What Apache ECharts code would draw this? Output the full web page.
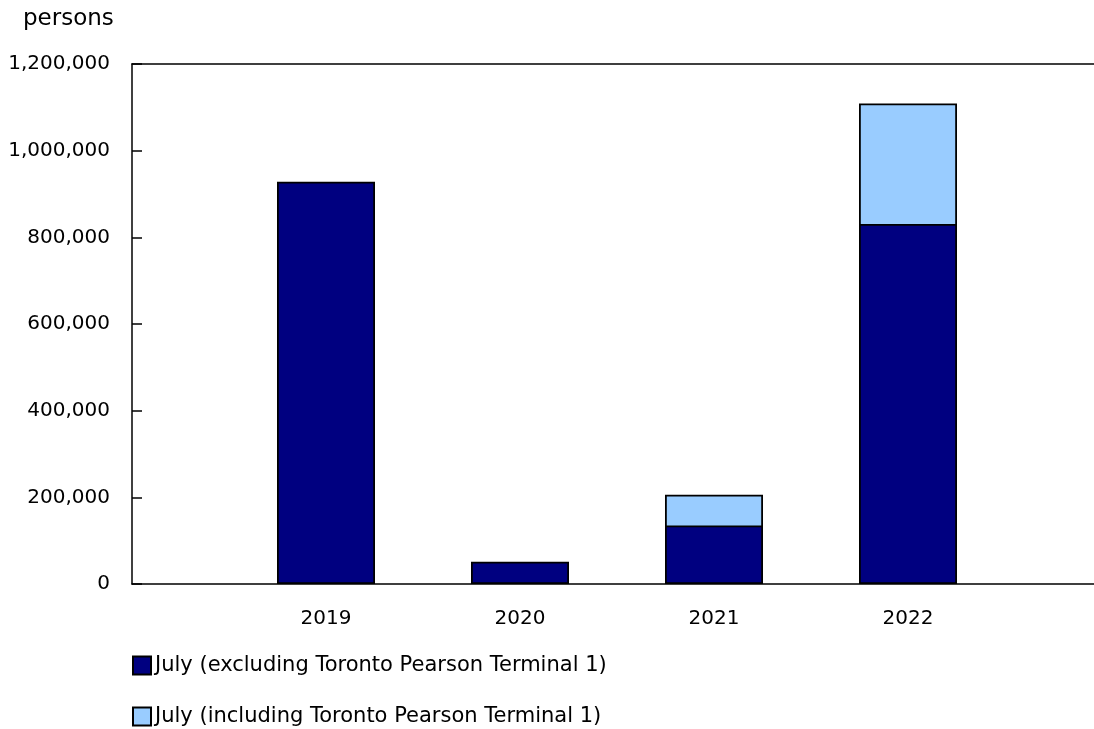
<!DOCTYPE html>
<html>
<head>
<meta charset="utf-8">
<script src="https://cdn.jsdelivr.net/npm/echarts@6/dist/echarts.min.js"></script>
<style>html,body{margin:0;padding:0;background:#fff}#c{width:1094px;height:729px}</style>
</head>
<body>
<div id="c"></div>
<script>
const categories = ['', '2019', '2020', '2021', '2022', ''];
const excludingT1 = [null, 928400, 51400, 135100, 831000, null];
const includingT1 = [null, null, null, 206000, 1108700, null];
const seriesNames = ['July (excluding Toronto Pearson Terminal 1)', 'July (including Toronto Pearson Terminal 1)'];
const yTicks = [0, 200000, 400000, 600000, 800000, 1000000, 1200000];
const unitLabel = 'persons';

const font = 'DejaVu Sans, Verdana, sans-serif';
const chart = echarts.init(document.getElementById('c'));
chart.setOption({
  animation: false,
  backgroundColor: '#fff',
  textStyle: { fontFamily: font, color: '#000' },
  title: {
    text: unitLabel, left: 23, top: 8, padding: 0,
    textStyle: { fontFamily: font, fontSize: 23, fontWeight: 'normal', color: '#000' }
  },
  legend: {
    orient: 'vertical', left: 132, top: 655, height: 120, padding: 0, itemWidth: 18, itemHeight: 18, itemGap: 30,
    icon: 'rect',
    textStyle: { fontFamily: font, fontSize: 21, color: '#000', padding: [0, 0, 0, -1] },
    data: seriesNames
  },
  grid: { left: 132, top: 64, height: 520, width: 970, outerBoundsMode: 'none', containLabel: false },
  xAxis: [{
    type: 'category', data: categories, boundaryGap: false,
    axisLine: { lineStyle: { color: '#000', width: 1.5 } },
    axisTick: { show: false },
    axisLabel: { fontFamily: font, fontSize: 20, color: '#000', margin: 25 }
  }, {
    type: 'category', data: categories, boundaryGap: false, position: 'top',
    axisLine: { lineStyle: { color: '#000', width: 1.5 } },
    axisTick: { show: false }, axisLabel: { show: false }
  }],
  yAxis: {
    type: 'value', min: yTicks[0], max: yTicks[yTicks.length - 1], interval: yTicks[1] - yTicks[0],
    axisLine: { show: true, lineStyle: { color: '#000', width: 1.5 } },
    axisTick: { show: true, inside: true, length: 10, lineStyle: { color: '#000', width: 1.5 } },
    splitLine: { show: false },
    axisLabel: {
      fontFamily: font, fontSize: 20, color: '#000', margin: 22,
      formatter: v => v.toLocaleString('en-US')
    }
  },
  series: [{
    name: seriesNames[0], type: 'bar', data: excludingT1, barWidth: 98, barGap: '-100%', z: 3,
    itemStyle: { color: '#000080', borderColor: '#000', borderWidth: 1.8 }
  }, {
    name: seriesNames[1], type: 'bar', data: includingT1, barWidth: 98, z: 2,
    itemStyle: { color: '#99CCFF', borderColor: '#000', borderWidth: 1.8 }
  }]
});
</script>
</body>
</html>
